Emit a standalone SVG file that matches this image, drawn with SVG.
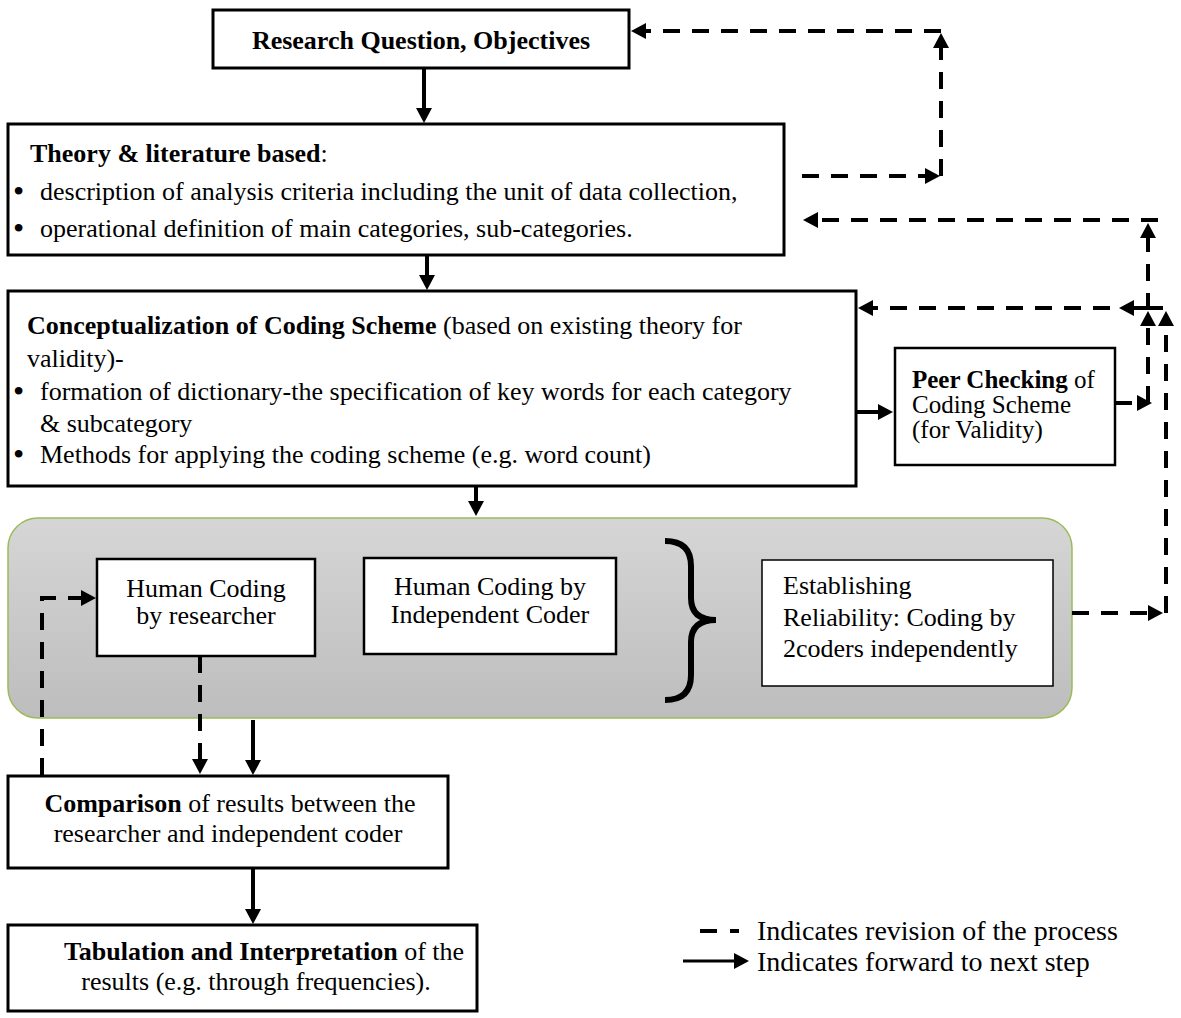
<svg xmlns="http://www.w3.org/2000/svg" width="1181" height="1018" viewBox="0 0 1181 1018">
<defs>
<style>
text{font-family:"Liberation Serif","Times New Roman",serif;font-size:26px;fill:#000}
.b{font-weight:bold}
.box{fill:#fff;stroke:#000;stroke-width:3}
.sm{font-size:25px}
.lg{font-size:28px}
.bul{font-size:32px}
.solid{fill:none;stroke:#000;stroke-width:4}
.dash{fill:none;stroke:#000;stroke-width:4;stroke-dasharray:17 12}
</style>
<marker id="ah" markerUnits="userSpaceOnUse" markerWidth="16" markerHeight="16" refX="10" refY="8" orient="auto" viewBox="0 0 16 16">
<path d="M0,0 L15,8 L0,16 z" fill="#000"/>
</marker>
<linearGradient id="pg" x1="0" y1="0" x2="0" y2="1">
<stop offset="0" stop-color="#d6d6d6"/>
<stop offset="1" stop-color="#bdbdbd"/>
</linearGradient>
</defs>

<g id="panel">
<rect x="8" y="518" width="1064" height="200" rx="30" fill="url(#pg)" stroke="#9bbb59" stroke-width="1.5"/>
</g>

<g id="research-question">
<rect class="box" x="213" y="10" width="416" height="58"/>
<text class="b" x="421" y="49" text-anchor="middle">Research Question, Objectives</text>
</g>

<g id="theory">
<rect class="box" x="8" y="124" width="776" height="131"/>
<text x="30" y="162"><tspan class="b">Theory &amp; literature based</tspan>:</text>
<text class="bul" x="13" y="202">•</text><text x="40" y="200">description of analysis criteria including the unit of data collection,</text>
<text class="bul" x="13" y="239">•</text><text x="40" y="237">operational definition of main categories, sub-categories.</text>
</g>

<g id="conceptualization">
<rect class="box" x="8" y="291" width="848" height="195"/>
<text x="27" y="334"><tspan class="b">Conceptualization of Coding Scheme</tspan> (based on existing theory for</text>
<text x="27" y="367">validity)-</text>
<text class="bul" x="13" y="402">•</text><text x="40" y="400">formation of dictionary-the specification of key words for each category</text>
<text x="40" y="432">&amp; subcategory</text>
<text class="bul" x="13" y="465">•</text><text x="40" y="463">Methods for applying the coding scheme (e.g. word count)</text>
</g>

<g id="peer-checking">
<rect x="895" y="348" width="220" height="117" fill="#fff" stroke="#000" stroke-width="2.5"/>
<text class="sm" x="912" y="388"><tspan class="b">Peer Checking</tspan> of</text>
<text class="sm" x="912" y="413">Coding Scheme</text>
<text class="sm" x="912" y="438">(for Validity)</text>
</g>

<g id="human-coding-researcher">
<rect x="97" y="559" width="218" height="97" fill="#fff" stroke="#000" stroke-width="2.5"/>
<text x="206" y="597" text-anchor="middle">Human Coding</text>
<text x="206" y="624" text-anchor="middle">by researcher</text>
</g>

<g id="human-coding-independent">
<rect x="364" y="558" width="252" height="96" fill="#fff" stroke="#000" stroke-width="2.5"/>
<text x="490" y="595" text-anchor="middle">Human Coding by</text>
<text x="490" y="623" text-anchor="middle">Independent Coder</text>
</g>

<g id="brace">
<path d="M665,541 Q691,541 691,566 L691,598 Q691,620 716,620 Q691,620 691,642 L691,675 Q691,700 665,700" fill="none" stroke="#000" stroke-width="6"/>
</g>

<g id="reliability">
<rect x="762" y="560" width="291" height="126" fill="#fff" stroke="#000" stroke-width="1.5"/>
<text x="783" y="594">Establishing</text>
<text x="783" y="626">Reliability: Coding by</text>
<text x="783" y="657">2coders independently</text>
</g>

<g id="comparison">
<rect class="box" x="8" y="776" width="440" height="92"/>
<text x="230" y="812" text-anchor="middle"><tspan class="b">Comparison</tspan> of results between the</text>
<text x="228" y="842" text-anchor="middle">researcher and independent coder</text>
</g>

<g id="tabulation">
<rect class="box" x="8" y="925" width="469" height="86"/>
<text x="264" y="960" text-anchor="middle"><tspan class="b">Tabulation and Interpretation</tspan> of the</text>
<text x="256" y="990" text-anchor="middle">results (e.g. through frequencies).</text>
</g>

<g id="connectors">
<line class="solid" x1="424" y1="68" x2="424" y2="118" marker-end="url(#ah)"/>
<line class="solid" x1="427" y1="255" x2="427" y2="285" marker-end="url(#ah)"/>
<line class="solid" x1="856" y1="412" x2="888" y2="412" marker-end="url(#ah)"/>
<line class="solid" x1="476" y1="486" x2="476" y2="511" marker-end="url(#ah)"/>
<line class="solid" x1="253" y1="720" x2="253" y2="770" marker-end="url(#ah)"/>
<line class="solid" x1="253" y1="868" x2="253" y2="919" marker-end="url(#ah)"/>

<line class="dash" x1="802" y1="176" x2="935" y2="176" marker-end="url(#ah)"/>
<line class="dash" x1="941" y1="176" x2="941" y2="38" marker-end="url(#ah)"/>
<line class="dash" x1="941" y1="31" x2="636" y2="31" marker-end="url(#ah)"/>

<line class="dash" x1="1115" y1="403" x2="1147" y2="403" marker-end="url(#ah)"/>
<line class="dash" x1="1148" y1="403" x2="1148" y2="316" marker-end="url(#ah)"/>
<line class="dash" x1="1148" y1="310" x2="1148" y2="228" marker-end="url(#ah)"/>
<line class="dash" x1="1158" y1="220" x2="808" y2="220" marker-end="url(#ah)"/>

<line class="dash" x1="1072" y1="613" x2="1158" y2="613" marker-end="url(#ah)"/>
<line class="dash" x1="1166" y1="613" x2="1166" y2="316" marker-end="url(#ah)"/>
<line class="solid" x1="1163" y1="308" x2="1124" y2="308" marker-end="url(#ah)"/>
<line class="dash" x1="1110" y1="308" x2="863" y2="308" marker-end="url(#ah)"/>

<path class="dash" d="M42,775 L42,598 L91,598" marker-end="url(#ah)"/>
<line class="dash" x1="200" y1="656" x2="200" y2="769" marker-end="url(#ah)"/>
</g>

<g id="legend">
<line x1="700" y1="931" x2="739" y2="931" stroke="#000" stroke-width="4" stroke-dasharray="17 13"/>
<text class="lg" x="757" y="940">Indicates revision of the process</text>
<line x1="683" y1="961" x2="744" y2="961" stroke="#000" stroke-width="3" marker-end="url(#ah)"/>
<text class="lg" x="757" y="971">Indicates forward to next step</text>
</g>
</svg>
